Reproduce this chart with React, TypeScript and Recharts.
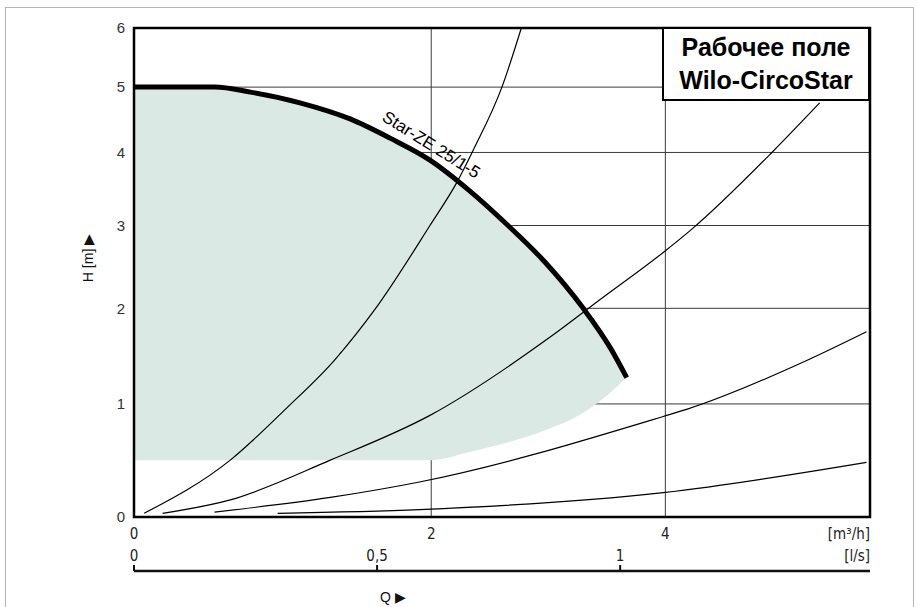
import React from "react";
import {
  Area,
  CartesianGrid,
  ComposedChart,
  Line,
  ReferenceArea,
  ReferenceDot,
  XAxis,
  YAxis,
} from "recharts";

// the catalogue grid is compressed towards the top/right, log(v + offset) fits it well
const Q_OFF = 6.5;
const H_OFF = 5;

const qTicks = [0, 2, 4];
const lsTicks = [0, 0.5, 1];
const hTicks = [0, 1, 2, 3, 4, 5, 6];
const Q_MAX = 6.13;
const LS_MAX = 1.514;
const H_MAX = 6;

// pump curve Star-ZE 25/1-5 and lower edge of the working field
const pumpQ = [0, 0.49, 0.72, 1.05, 1.4, 1.69, 1.99, 2.3, 2.61, 2.92, 3.25, 3.49, 3.64];
const pumpH = [5, 5, 4.92, 4.75, 4.5, 4.21, 3.89, 3.46, 3.0, 2.54, 2.0, 1.57, 1.26];
const fieldLow = [0.48, 0.48, 0.48, 0.48, 0.48, 0.48, 0.48, 0.553, 0.64, 0.75, 0.915, 1.11, 1.26];

// system curves
const sys1Q = [0.06, 0.59, 0.96, 1.29, 1.58, 1.99, 2.2, 2.33, 2.56, 2.72];
const sys1H = [0.03, 0.48, 0.96, 1.44, 1.99, 3.0, 3.58, 4.04, 5.0, 6.0];
const sys2Q = [0.17, 0.59, 1.26, 1.99, 2.96, 3.4, 3.98, 4.26, 5.06, 5.57];
const sys2H = [0.03, 0.14, 0.48, 0.89, 1.68, 2.1, 2.66, 2.96, 4.0, 4.75];
const sys3Q = [0.49, 1.26, 1.91, 3.98, 4.21, 5.44, 6.09];
const sys3H = [0.04, 0.16, 0.29, 0.88, 0.95, 1.44, 1.74];
const sys4Q = [0.9, 1.91, 3.98, 6.09];
const sys4H = [0.03, 0.06, 0.2, 0.46];

const pumpData = pumpQ.map((q, i) => ({ q, h: pumpH[i], low: fieldLow[i] }));
const toRows = (qs: number[], hs: number[]) => qs.map((q, i) => ({ q, h: hs[i] }));
const systemCurves = [
  toRows(sys1Q, sys1H),
  toRows(sys2Q, sys2H),
  toRows(sys3Q, sys3H),
  toRows(sys4Q, sys4H),
];
// the l/s scale carries no series of its own; this keeps its axis alive
const lsRows = [0, LS_MAX].map((ls) => ({ ls, h: 0 }));

const narrow =
  "'Liberation Sans Narrow', 'DejaVu Sans Condensed', 'Roboto Condensed', 'Liberation Sans', sans-serif";
const sans = "'Liberation Sans', Arial, sans-serif";

const fmt = (v: number) => String(Math.round(v * 100) / 100).replace(".", ",");

// l/s scale: labels sit above the axis line, tick marks point up
function LsTick(props: any) {
  const { x, y, payload } = props;
  return (
    <g>
      <line x1={x} x2={x} y1={y} y2={y - 6} stroke="#111" strokeWidth={2} />
      <text x={x} y={y - 10} textAnchor="middle" fill="#222" fontSize={15} fontFamily={narrow}>
        {fmt(payload.value)}
      </text>
    </g>
  );
}

export default function App() {
  return (
    <div style={{ position: "absolute", left: 0, top: 0, width: 917, height: 607, background: "#fff" }}>
      <div
        style={{
          position: "absolute",
          left: 5,
          top: 7,
          width: 907,
          height: 620,
          border: "1px solid #b5b5b5",
        }}
      />
      <ComposedChart
        width={917}
        height={607}
        margin={{ top: 28, right: 47, bottom: 0, left: 0 }}
        style={{ position: "absolute", left: 0, top: 0 }}
      >
        <XAxis
          xAxisId="z_ls"
          type="number"
          dataKey="ls"
          domain={[0, LS_MAX]}
          allowDataOverflow
          ticks={lsTicks}
          interval={0}
          axisLine={{ stroke: "#111", strokeWidth: 2.5 }}
          tickLine={false}
          tickSize={0}
          tickMargin={0}
          height={36}
          tick={<LsTick />}
        />
        <XAxis
          xAxisId="a_q"
          type="number"
          dataKey={(d: any) => d.q + Q_OFF}
          scale="log"
          domain={[Q_OFF, Q_MAX + Q_OFF]}
          allowDataOverflow
          ticks={qTicks.map((v) => v + Q_OFF)}
          tickFormatter={(v: number) => fmt(v - Q_OFF)}
          interval={0}
          axisLine={false}
          tickLine={false}
          tickSize={0}
          tickMargin={11}
          height={54}
          tick={{ fill: "#222", fontSize: 15, fontFamily: narrow }}
        />
        <YAxis
          type="number"
          dataKey={(d: any) => d.h + H_OFF}
          scale="log"
          domain={[H_OFF, H_MAX + H_OFF]}
          allowDataOverflow
          ticks={hTicks.map((v) => v + H_OFF)}
          tickFormatter={(v: number) => fmt(v - H_OFF)}
          interval={0}
          axisLine={false}
          tickLine={false}
          tickSize={0}
          tickMargin={9}
          width={134}
          tick={{ fill: "#333", fontSize: 15, fontFamily: sans }}
        />
        <Area
          xAxisId="a_q"
          data={pumpData}
          type="monotone"
          dataKey={(d: any) => [d.low + H_OFF, d.h + H_OFF]}
          fill="#dae9e3"
          fillOpacity={1}
          stroke="none"
          isAnimationActive={false}
        />
        <CartesianGrid xAxisId="a_q" stroke="#3c3c3c" strokeWidth={1} />
        <Line
          xAxisId="z_ls"
          data={lsRows}
          dataKey={(d: any) => d.h + H_OFF}
          stroke="none"
          dot={false}
          activeDot={false}
          isAnimationActive={false}
        />
        {systemCurves.map((rows, i) => (
          <Line
            key={i}
            xAxisId="a_q"
            data={rows}
            type="monotone"
            dataKey={(d: any) => d.h + H_OFF}
            stroke="#000"
            strokeWidth={1.2}
            dot={false}
            isAnimationActive={false}
          />
        ))}
        <Line
          xAxisId="a_q"
          data={pumpData}
          type="monotone"
          dataKey={(d: any) => d.h + H_OFF}
          stroke="#000"
          strokeWidth={5}
          dot={false}
          isAnimationActive={false}
        />
        <ReferenceArea
          xAxisId="a_q"
          x1={Q_OFF}
          x2={Q_MAX + Q_OFF}
          y1={H_OFF}
          y2={H_MAX + H_OFF}
          fill="none"
          stroke="#000"
          strokeWidth={2.5}
        />
        <ReferenceDot
          xAxisId="a_q"
          x={2.0 + Q_OFF}
          y={4.11 + H_OFF}
          r={1}
          shape={(p: any) => (
            <text
              x={p.cx}
              y={p.cy}
              transform={`rotate(32 ${p.cx} ${p.cy})`}
              textAnchor="middle"
              dominantBaseline="central"
              fontSize={17}
              fontFamily={sans}
              fill="#000"
            >
              Star-ZE 25/1-5
            </text>
          )}
        />
      </ComposedChart>

      <div
        style={{
          position: "absolute",
          left: 662,
          top: 27,
          width: 208,
          height: 74,
          boxSizing: "border-box",
          border: "2px solid #000",
          background: "#fff",
          fontFamily: sans,
          fontWeight: "bold",
          fontSize: 25,
          lineHeight: "33px",
          textAlign: "center",
          paddingTop: 2,
          color: "#000",
        }}
      >
        Рабочее поле
        <br />
        Wilo-CircoStar
      </div>

      <div style={{ position: "absolute", right: 47, top: 525, fontFamily: narrow, fontSize: 15, color: "#222" }}>
        [m³/h]
      </div>
      <div style={{ position: "absolute", right: 47, top: 547, fontFamily: narrow, fontSize: 15, color: "#222" }}>
        [l/s]
      </div>
      <div style={{ position: "absolute", left: 380, top: 589, fontFamily: sans, fontSize: 14, color: "#111" }}>
        Q ▶
      </div>
      <div
        style={{
          position: "absolute",
          left: 88,
          top: 258,
          transform: "translate(-50%, -50%) rotate(-90deg)",
          whiteSpace: "nowrap",
          fontFamily: sans,
          fontSize: 14,
          color: "#111",
        }}
      >
        H [m] ▶
      </div>
    </div>
  );
}
